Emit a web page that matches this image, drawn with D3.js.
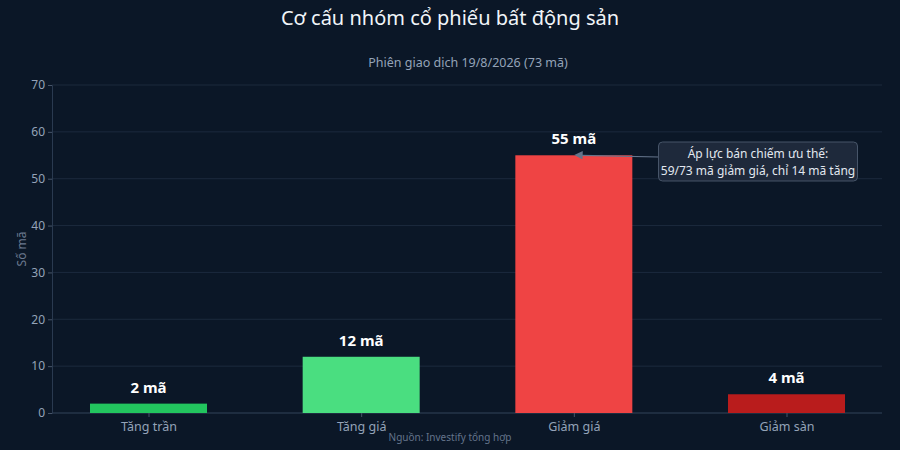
<!DOCTYPE html>
<html>
<head>
<meta charset="utf-8">
<script src="https://cdn.jsdelivr.net/npm/d3@7"></script>
<style>
  html, body { margin: 0; padding: 0; background: #0b1727; }
  svg { display: block; }
</style>
</head>
<body>
<div id="chart"></div>
<script>
var categories = ["Tăng trần", "Tăng giá", "Giảm giá", "Giảm sàn"];
var counts = [2, 12, 55, 4];
var barColors = ["#22c55e", "#4ade80", "#ef4444", "#b91c1c"];
var yTicks = [0, 10, 20, 30, 40, 50, 60, 70];

var W = 900, H = 450;
var plotLeft = 52, plotRight = 882, plotTop = 85, plotBottom = 413;
var barW = 117;

var svg = d3.select("#chart")
    .append("svg")
    .attr("width", W)
    .attr("height", H)
    .style("font-family", "'Noto Sans', sans-serif");

svg.append("rect").attr("width", W).attr("height", H).attr("fill", "#0b1727");

var x = d3.scalePoint()
    .domain(categories)
    .range([148.5, 786.5]);

var y = d3.scaleLinear()
    .domain([0, 70])
    .range([plotBottom, plotTop]);

// gridlines
svg.append("g")
    .selectAll("line")
    .data(yTicks)
    .enter()
    .append("line")
    .attr("x1", plotLeft)
    .attr("x2", plotRight)
    .attr("y1", function(d) { return y(d); })
    .attr("y2", function(d) { return y(d); })
    .attr("stroke", "#1c2a3d")
    .attr("stroke-width", 1);

// y axis
var yAxis = svg.append("g")
    .attr("transform", "translate(" + plotLeft + ",0)")
    .call(d3.axisLeft(y).tickValues(yTicks).tickSize(4).tickPadding(3));
yAxis.select(".domain").attr("stroke", "#2a3a50");
yAxis.selectAll(".tick line").attr("stroke", "#475569");
yAxis.selectAll("text")
    .attr("fill", "#94a3b8")
    .attr("font-size", "12px")
    .attr("font-family", "'Noto Sans', sans-serif");

// x axis
var xAxis = svg.append("g")
    .attr("transform", "translate(0," + plotBottom + ")")
    .call(d3.axisBottom(x).tickSize(4).tickPadding(5));
xAxis.select(".domain")
    .attr("d", "M" + plotLeft + ",0H" + plotRight)
    .attr("stroke", "#2a3a50");
xAxis.selectAll(".tick line").attr("stroke", "#475569");
xAxis.selectAll("text")
    .attr("fill", "#94a3b8")
    .attr("font-size", "12.5px")
    .attr("font-family", "'Noto Sans', sans-serif");

// bars
svg.selectAll("rect.bar")
    .data(counts)
    .enter()
    .append("rect")
    .attr("class", "bar")
    .attr("x", function(d, i) { return x(categories[i]) - barW / 2; })
    .attr("y", function(d) { return y(d); })
    .attr("width", barW)
    .attr("height", function(d) { return y(0) - y(d); })
    .attr("fill", function(d, i) { return barColors[i]; });

// value labels
svg.selectAll("text.value")
    .data(counts)
    .enter()
    .append("text")
    .attr("class", "value")
    .attr("text-anchor", "middle")
    .attr("x", function(d, i) { return x(categories[i]); })
    .attr("y", function(d) { return y(d) - 11; })
    .attr("fill", "#ffffff")
    .attr("font-size", "15px")
    .attr("font-weight", "bold")
    .text(function(d) { return d + " mã"; });

// title + subtitle
svg.append("text")
    .attr("x", W / 2).attr("y", 25)
    .attr("text-anchor", "middle")
    .attr("fill", "#f1f5f9")
    .attr("font-size", "20px")
    .text("Cơ cấu nhóm cổ phiếu bất động sản");

svg.append("text")
    .attr("x", 468).attr("y", 67)
    .attr("text-anchor", "middle")
    .attr("fill", "#94a3b8")
    .attr("font-size", "12.5px")
    .text("Phiên giao dịch 19/8/2026 (73 mã)");

// y axis title
svg.append("text")
    .attr("transform", "translate(26," + ((plotTop + plotBottom) / 2) + ") rotate(-90)")
    .attr("text-anchor", "middle")
    .attr("fill", "#6b7a90")
    .attr("font-size", "12px")
    .text("Số mã");

// source
svg.append("text")
    .attr("x", 450).attr("y", 441)
    .attr("text-anchor", "middle")
    .attr("fill", "#64748b")
    .attr("font-size", "10px")
    .text("Nguồn: Investify tổng hợp");

// annotation
var annX = x("Giảm giá") + 4, annY = y(55);
var boxX = 658.5, boxY = 142, boxW = 199, boxH = 39;

svg.append("defs").append("marker")
    .attr("id", "arrow")
    .attr("viewBox", "0 0 10 10")
    .attr("refX", 1).attr("refY", 5)
    .attr("markerWidth", 7).attr("markerHeight", 7)
    .attr("orient", "auto-start-reverse")
    .append("path")
    .attr("d", "M0,0L10,5L0,10z")
    .attr("fill", "#64748b");

svg.append("line")
    .attr("x1", boxX).attr("y1", boxY + 15)
    .attr("x2", annX + 4).attr("y2", annY)
    .attr("stroke", "#64748b")
    .attr("stroke-width", 1.2)
    .attr("marker-end", "url(#arrow)");

svg.append("rect")
    .attr("x", boxX).attr("y", boxY)
    .attr("width", boxW).attr("height", boxH)
    .attr("rx", 4)
    .attr("fill", "#1e293b")
    .attr("stroke", "#475569")
    .attr("stroke-width", 1);

svg.append("text")
    .attr("x", boxX + boxW / 2).attr("y", boxY + 16)
    .attr("text-anchor", "middle")
    .attr("fill", "#e2e8f0")
    .attr("font-size", "12px")
    .text("Áp lực bán chiếm ưu thế:");
svg.append("text")
    .attr("x", boxX + boxW / 2).attr("y", boxY + 33)
    .attr("text-anchor", "middle")
    .attr("fill", "#e2e8f0")
    .attr("font-size", "12px")
    .text("59/73 mã giảm giá, chỉ 14 mã tăng");
</script>
</body>
</html>
